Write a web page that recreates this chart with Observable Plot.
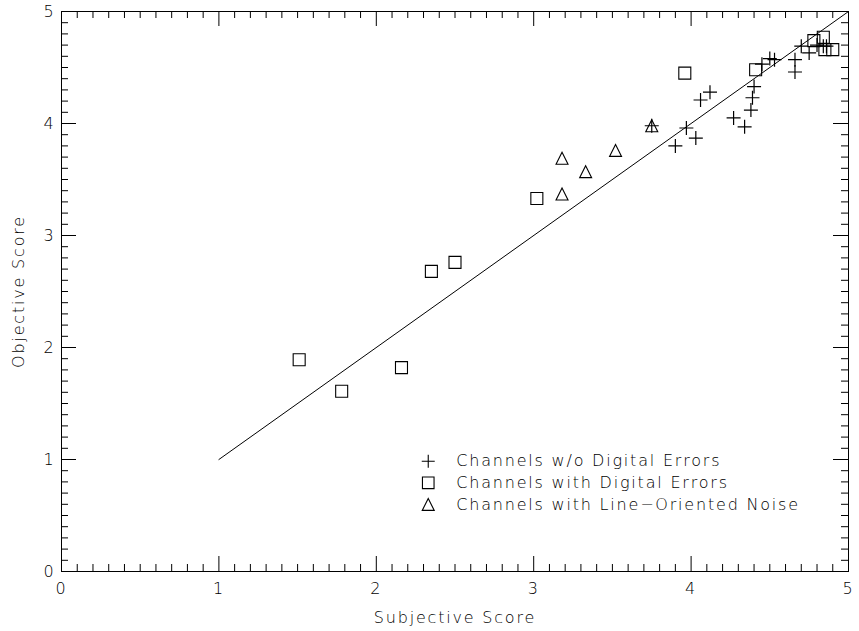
<!DOCTYPE html>
<html>
<head>
<meta charset="utf-8">
<script src="https://cdn.jsdelivr.net/npm/d3@7"></script>
<script src="https://cdn.jsdelivr.net/npm/@observablehq/plot@0.6"></script>
<style>
  html, body { margin: 0; padding: 0; background: #fff; }
  #chart svg { display: block; }
  #chart svg text { letter-spacing: 1.8px; }
</style>
</head>
<body>
<div id="chart"></div>
<script>
// Channels without digital errors (+)
const plainSubjective = [3.90, 3.97, 4.03, 4.06, 4.12, 4.27, 4.34, 4.38, 4.39, 4.40, 4.45, 4.50, 4.53, 4.66, 4.66, 4.70, 4.75, 4.80, 4.84, 4.86, 3.75];
const plainObjective  = [3.80, 3.96, 3.87, 4.21, 4.28, 4.05, 3.97, 4.12, 4.23, 4.33, 4.53, 4.58, 4.57, 4.57, 4.46, 4.69, 4.63, 4.70, 4.69, 4.69, 3.98];

// Channels with digital errors (square)
const digitalSubjective = [1.51, 1.78, 2.16, 2.35, 2.50, 3.02, 3.96, 4.41, 4.78, 4.84, 4.85, 4.90];
const digitalObjective  = [1.89, 1.61, 1.82, 2.68, 2.76, 3.33, 4.45, 4.48, 4.74, 4.77, 4.66, 4.66];

// Channels with line-oriented noise (triangle)
const noiseSubjective = [3.18, 3.33, 3.18, 3.52, 3.75];
const noiseObjective  = [3.69, 3.57, 3.37, 3.76, 3.98];

// Reference line y = x
const refLine = [1, 5];

const xMajor = [0, 1, 2, 3, 4, 5];
const yMajor = [0, 1, 2, 3, 4, 5];
const xLabels = ["0", "1", "2", "3", "4", "5"];
const yLabels = ["0", "1", "2", "3", "4", "5"];

const legendLabels = [
  "Channels w/o Digital Errors",
  "Channels with Digital Errors",
  "Channels with Line\u2212Oriented Noise"
];

// Outline symbols whose half-width equals the dot radius
const radiusOf = size => Math.sqrt(size / Math.PI);
const plusSymbol = {draw(ctx, size) {
  const r = radiusOf(size);
  ctx.moveTo(-r, 0); ctx.lineTo(r, 0);
  ctx.moveTo(0, -r); ctx.lineTo(0, r);
}};
const squareSymbol = {draw(ctx, size) {
  const r = radiusOf(size);
  ctx.rect(-r, -r, 2 * r, 2 * r);
}};
const triangleSymbol = {draw(ctx, size) {
  const r = radiusOf(size);
  ctx.moveTo(0, -r); ctx.lineTo(r, r); ctx.lineTo(-r, r); ctx.closePath();
}};

const zip = (xs, ys) => xs.map((x, i) => ({x, y: ys[i]}));
const plain = zip(plainSubjective, plainObjective);
const digital = zip(digitalSubjective, digitalObjective);
const noise = zip(noiseSubjective, noiseObjective);

const width = 859, height = 631;
const margin = {top: 11, right: 11, bottom: 60, left: 61};
const frameW = width - margin.left - margin.right;
const frameH = height - margin.top - margin.bottom;
const majorLen = 15, minorLen = 7;

const minor = d3.range(0, 5.0001, 0.1).map(v => +v.toFixed(1)).filter(v => Math.abs(v - Math.round(v)) > 1e-6);

// Legend layout, in data units
const legend = legendLabels.map((label, i) => ({label, x: 2.33, y: 0.985 - i * 0.193}));
const symbols = [plusSymbol, squareSymbol, triangleSymbol];
const radii = [6.5, 5.8, 6];

const font = "'DejaVu Sans', sans-serif";

const chart = Plot.plot({
  width, height,
  marginTop: margin.top, marginRight: margin.right, marginBottom: margin.bottom, marginLeft: margin.left,
  style: {fontFamily: font, fontSize: "16px", fontWeight: 200, color: "#000", background: "#fff"},
  x: {domain: [0, 5], label: null},
  y: {domain: [0, 5], label: null},
  marks: [
    Plot.frame({stroke: "#000", strokeWidth: 1}),
    // inward ticks on all four sides
    Plot.ruleX(xMajor, {x: d => d, insetTop: frameH - majorLen, stroke: "#000"}),
    Plot.ruleX(xMajor, {x: d => d, insetBottom: frameH - majorLen, stroke: "#000"}),
    Plot.ruleX(minor, {x: d => d, insetTop: frameH - minorLen, stroke: "#000"}),
    Plot.ruleX(minor, {x: d => d, insetBottom: frameH - minorLen, stroke: "#000"}),
    Plot.ruleY(yMajor, {y: d => d, insetRight: frameW - majorLen, stroke: "#000"}),
    Plot.ruleY(yMajor, {y: d => d, insetLeft: frameW - majorLen, stroke: "#000"}),
    Plot.ruleY(minor, {y: d => d, insetRight: frameW - minorLen, stroke: "#000"}),
    Plot.ruleY(minor, {y: d => d, insetLeft: frameW - minorLen, stroke: "#000"}),
    // tick labels
    Plot.axisX(xMajor, {anchor: "bottom", tickSize: 0, tickPadding: 11, tickFormat: (d, i) => xLabels[i], label: null, fontSize: 16}),
    Plot.axisY(yMajor, {anchor: "left", tickSize: 0, tickPadding: 6, tickFormat: (d, i) => yLabels[i], label: null, fontSize: 16}),
    Plot.text(["Subjective Score"], {frameAnchor: "bottom", dy: 46, lineAnchor: "middle", textAnchor: "middle", text: d => d, fontSize: 16}),
    Plot.text(["Objective Score"], {frameAnchor: "left", dx: -43, rotate: -90, lineAnchor: "middle", textAnchor: "middle", text: d => d, fontSize: 16}),
    // y = x reference
    Plot.line(refLine, {x: d => d, y: d => d, stroke: "#000", strokeWidth: 1}),
    // data
    Plot.dot(plain, {x: "x", y: "y", symbol: plusSymbol, r: 7, stroke: "#000", strokeWidth: 1.2}),
    Plot.dot(digital, {x: "x", y: "y", symbol: squareSymbol, r: 6, stroke: "#000", strokeWidth: 1.1}),
    Plot.dot(noise, {x: "x", y: "y", symbol: triangleSymbol, r: 6, stroke: "#000", strokeWidth: 1.1}),
    // legend
    ...legend.map((d, i) => Plot.dot([d], {x: "x", y: "y", symbol: symbols[i], r: radii[i], stroke: "#000", strokeWidth: 1.1})),
    Plot.text(legend, {x: "x", y: "y", text: "label", dx: 28, textAnchor: "start", fontSize: 16})
  ]
});

document.getElementById("chart").appendChild(chart);
</script>
</body>
</html>
